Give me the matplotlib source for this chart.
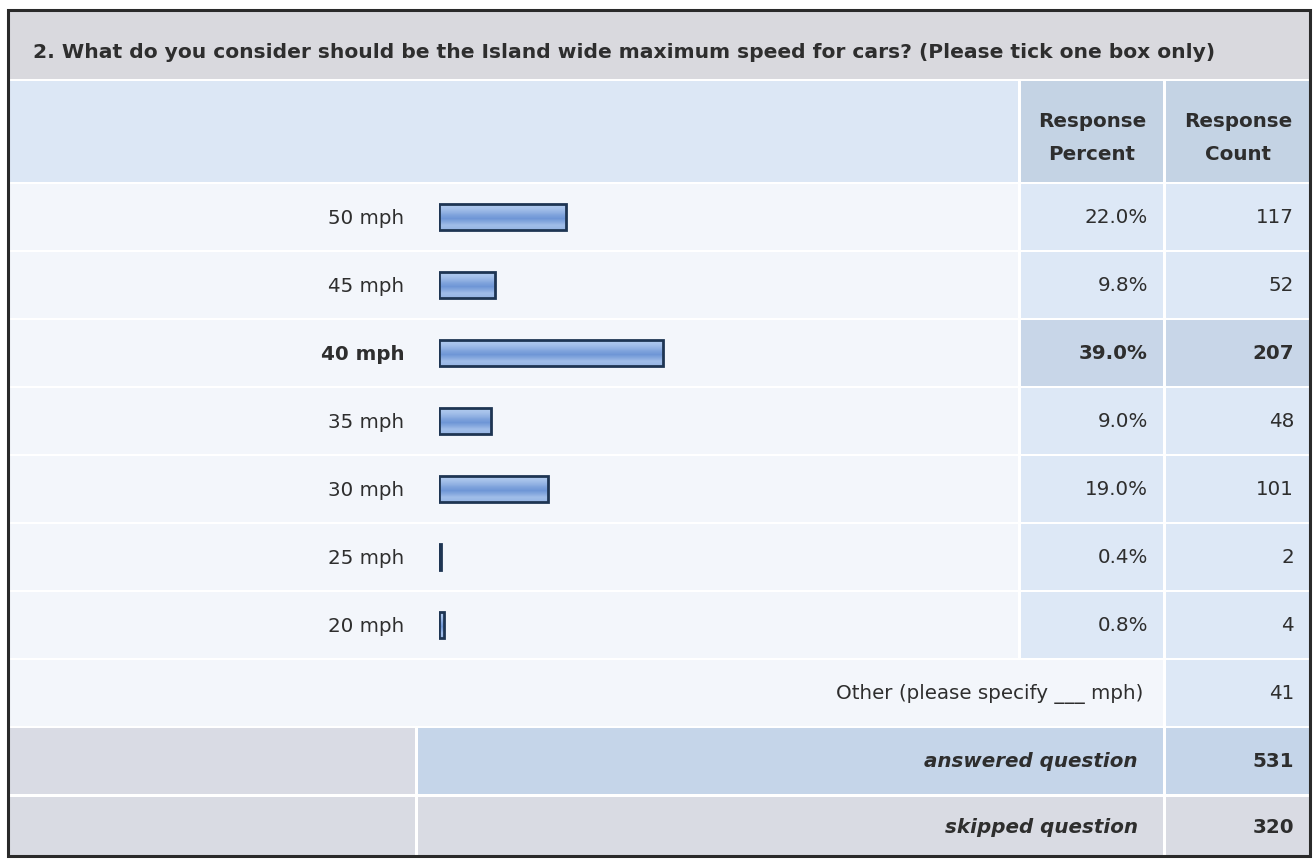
import matplotlib
matplotlib.use("Agg")
import matplotlib.pyplot as plt
from matplotlib.patches import Rectangle
from matplotlib.colors import LinearSegmentedColormap
import numpy as np

# ---- data ----
title = "2. What do you consider should be the Island wide maximum speed for cars? (Please tick one box only)"
categories = ["50 mph", "45 mph", "40 mph", "35 mph", "30 mph", "25 mph", "20 mph"]
percents = [22.0, 9.8, 39.0, 9.0, 19.0, 0.4, 0.8]
counts = [117, 52, 207, 48, 101, 2, 4]
highlight = "40 mph"
col_headers = ["Response\nPercent", "Response\nCount"]
other_label = "Other (please specify ___ mph)"
other_count = 41
answered = 531
skipped = 320

plt.rcParams['font.family'] = ['DejaVu Sans']
W, H = 1315, 862
fig = plt.figure(figsize=(W / 100, H / 100), dpi=100)
fig.patch.set_facecolor('white')

bg = fig.add_axes([0, 0, 1, 1])
bg.set_xlim(0, W)
bg.set_ylim(H, 0)
bg.axis('off')

TXT = '#2e2e2e'
FS = 14.3
L, R, T, B = 8, 1310, 11, 857
c_pct, c_cnt = 1021, 1166
c_split = 418
row0, pitch = 183, 68
n = len(categories)
gap = 3

def rect(x0, y0, x1, y1, fc):
    bg.add_patch(Rectangle((x0, y0), x1 - x0, y1 - y0, facecolor=fc, edgecolor='none'))

# title band
rect(L, T, R, 80, '#d9d9de')
# header row
rect(L, 82, c_pct - gap, row0, '#dce7f5')
rect(c_pct, 82, c_cnt - gap, row0, '#c4d3e4')
rect(c_cnt, 82, R, row0, '#c4d3e4')
bg.text((c_pct + c_cnt - gap) / 2, 138, col_headers[0], ha='center', va='center', fontsize=FS,
        fontweight='bold', color=TXT, linespacing=1.9)
bg.text((c_cnt + R) / 2, 138, col_headers[1], ha='center', va='center', fontsize=FS,
        fontweight='bold', color=TXT, linespacing=1.9)

# data rows
for i, cat in enumerate(categories):
    y0 = row0 + i * pitch + 2
    y1 = row0 + (i + 1) * pitch
    cell = '#c8d6e8' if cat == highlight else '#dde8f6'
    rect(L, y0, c_pct - gap, y1, '#f3f6fb')
    rect(c_pct, y0, c_cnt - gap, y1, cell)
    rect(c_cnt, y0, R, y1, cell)
    yc = row0 + i * pitch + pitch / 2 + 1
    w = 'bold' if cat == highlight else 'normal'
    bg.text(1148, yc, f"{percents[i]:.1f}%", ha='right', va='center', fontsize=FS,
            color=TXT, fontweight=w)
    bg.text(1294, yc, f"{counts[i]}", ha='right', va='center', fontsize=FS,
            color=TXT, fontweight=w)

# other row
yo0 = row0 + n * pitch + 2
yo1 = yo0 + 66
rect(L, yo0, c_cnt - gap, yo1, '#f3f6fb')
rect(c_cnt, yo0, R, yo1, '#dde8f6')
bg.text(1143, (yo0 + yo1) / 2, other_label, ha='right', va='center', fontsize=FS, color=TXT)
bg.text(1294, (yo0 + yo1) / 2, f"{other_count}", ha='right', va='center', fontsize=FS, color=TXT)

# answered row
ya0, ya1 = yo1 + 2, yo1 + 68
rect(L, ya0, c_split - gap, ya1, '#d9dbe4')
rect(c_split, ya0, c_cnt - gap, ya1, '#c5d5e9')
rect(c_cnt, ya0, R, ya1, '#c5d5e9')
bg.text(1138, (ya0 + ya1) / 2, "answered question", ha='right', va='center', fontsize=FS,
        color=TXT, fontweight='bold', fontstyle='italic')
bg.text(1294, (ya0 + ya1) / 2, f"{answered}", ha='right', va='center', fontsize=FS,
        color=TXT, fontweight='bold')

# skipped row
ys0, ys1 = ya1 + 3, B
rect(L, ys0, c_split - gap, ys1, '#d9dbe3')
rect(c_split, ys0, c_cnt - gap, ys1, '#d9dbe3')
rect(c_cnt, ys0, R, ys1, '#d9dbe3')
bg.text(1138, (ys0 + ys1) / 2, "skipped question", ha='right', va='center', fontsize=FS,
        color=TXT, fontweight='bold', fontstyle='italic')
bg.text(1294, (ys0 + ys1) / 2, f"{skipped}", ha='right', va='center', fontsize=FS,
        color=TXT, fontweight='bold')

# title
bg.text(33, 52, title, ha='left', va='center', fontsize=14.6, fontweight='bold', color=TXT)

# outer border
bg.add_patch(Rectangle((L, T), R - L, B - T, facecolor='none', edgecolor='#2a2a2a', lw=2.2))

# ---- bar axes ----
bx0 = 439
px_per_pct = 5.75
bw = 575
ax = fig.add_axes([bx0 / W, 1 - (row0 + n * pitch + 1) / H, bw / W, n * pitch / H])
ax.patch.set_alpha(0)
for s in ax.spines.values():
    s.set_visible(False)
ax.tick_params(axis='x', which='both', bottom=False, labelbottom=False)
ax.tick_params(axis='y', length=0, pad=25, labelsize=FS, labelcolor=TXT)
ypos = np.arange(n)
bars = ax.barh(ypos, percents, height=0.37, color='#8db0e6', edgecolor='#1e3553',
               linewidth=2.0, zorder=3)
ax.set_yticks(ypos)
ax.set_yticklabels(categories)
for lab in ax.get_yticklabels():
    lab.set_verticalalignment('center')
    if lab.get_text() == highlight:
        lab.set_fontweight('bold')

grad = np.array([0.78, 0.72, 0.62, 0.5, 0.42, 0.55, 0.7, 0.66]).reshape(-1, 1)
cmap = LinearSegmentedColormap.from_list('b', ['#5a86cf', '#c4d9f5'])
for b in bars:
    x, y = b.get_x(), b.get_y()
    w, h = b.get_width(), b.get_height()
    im = ax.imshow(grad, cmap=cmap, vmin=0.3, vmax=0.9, aspect='auto',
                   extent=(x, x + w, y + h, y), zorder=2, interpolation='bilinear')
    im.set_clip_path(b)
    b.set_facecolor('none')
ax.set_xlim(0, bw / px_per_pct)
ax.set_ylim(n - 0.5, -0.5)

fig.savefig('out.png', dpi=100, facecolor=fig.get_facecolor())
